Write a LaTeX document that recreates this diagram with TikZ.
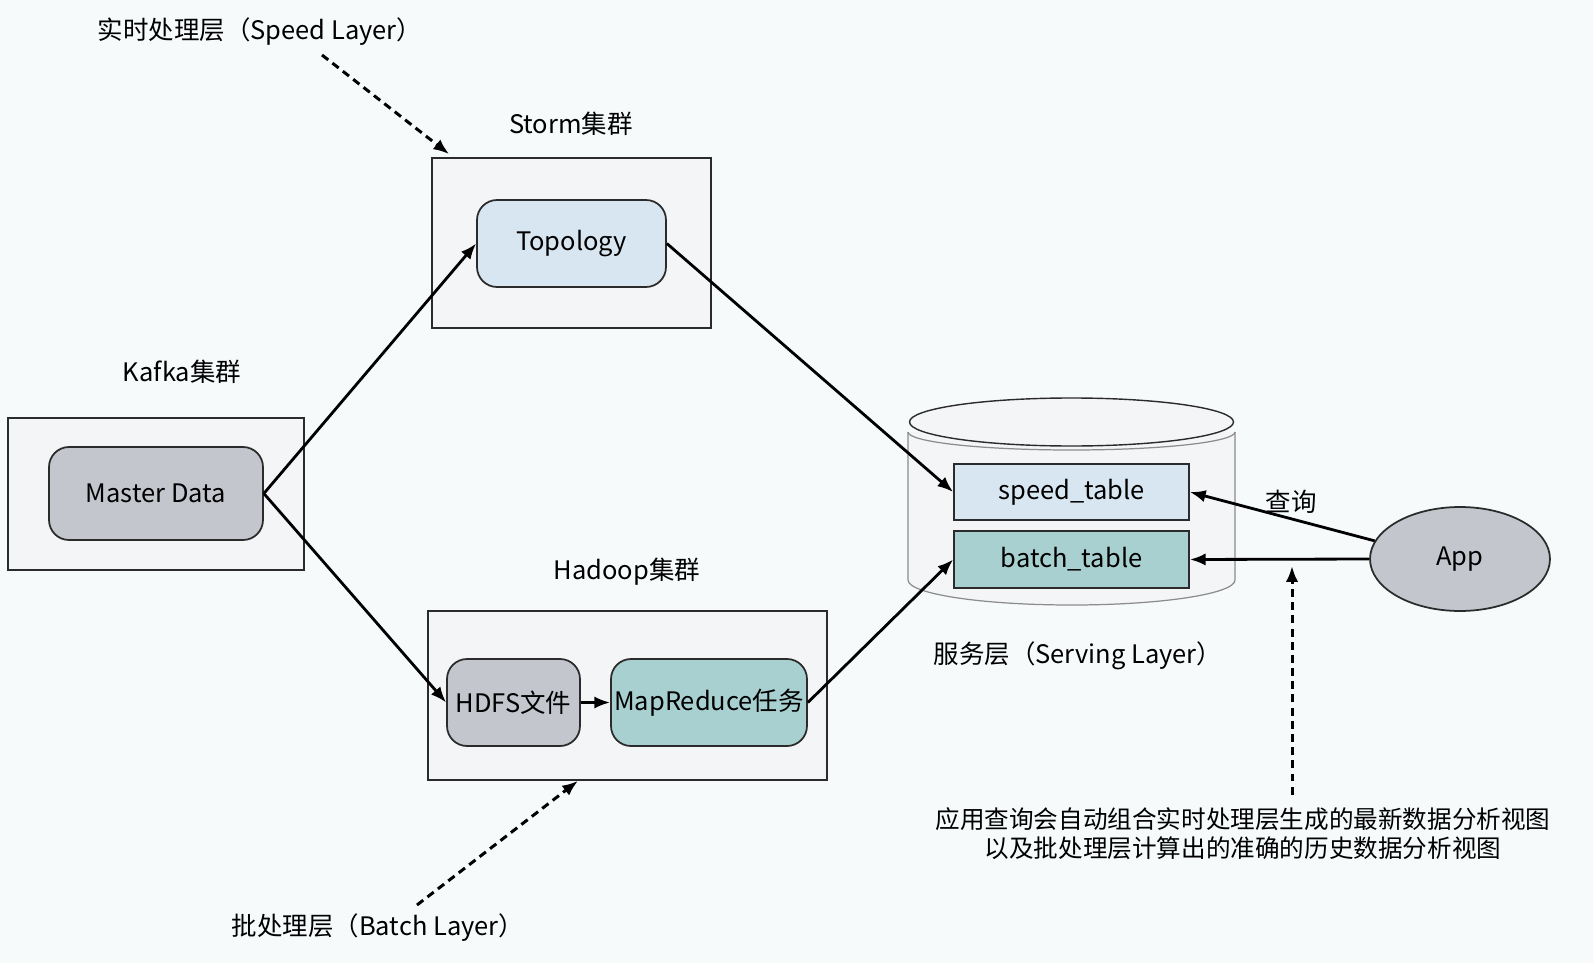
\documentclass[tikz,border=0pt]{standalone}
\usepackage{fontspec}
\setmainfont{Noto Sans CJK SC}
\usetikzlibrary{arrows.meta,shapes.geometric}
\definecolor{bgcol}{HTML}{F6FAFB}
\definecolor{clusterfill}{HTML}{F4F5F7}
\definecolor{graynode}{HTML}{C3C6CD}
\definecolor{bluenode}{HTML}{D8E6F1}
\definecolor{tealnode}{HTML}{A8D0D0}
\definecolor{edge}{HTML}{2B2B2B}
\begin{document}
\begin{tikzpicture}[x=0.02cm,y=-0.02cm,font=\fontsize{14.5}{18}\selectfont,
		cluster/.style={rectangle,draw=edge,fill=clusterfill,line width=1pt,inner sep=0pt},
		task/.style={rectangle,rounded corners=0.4cm,draw=edge,line width=1pt,inner sep=0pt,minimum height=1.74cm},
		table/.style={rectangle,draw=edge,line width=1pt,inner sep=0pt,minimum width=4.7cm},
		flow/.style={-{Latex[length=9pt,width=7pt]},line width=1.6pt,draw=black},
		layer/.style={-{Latex[length=9pt,width=7pt]},line width=1.7pt,dash pattern=on 4.5pt off 3pt,draw=black}]
		\fill[bgcol] (0,0) rectangle (1593,963);
		\useasboundingbox (0,0) rectangle (1593,963);
		% clusters
		\node[cluster,minimum width=5.92cm,minimum height=3.04cm] (kafka) at (156,494) {};
		\node (kafkalbl) at (182,372) {Kafka集群};
		\node[task,fill=graynode,minimum width=4.28cm,minimum height=1.86cm] (master) at (156,493.5) {Master Data};
		\node[cluster,minimum width=5.58cm,minimum height=3.4cm] (storm) at (571.5,243) {};
		\node (stormlbl) at (571,124) {Storm集群};
		\node[task,fill=bluenode,minimum width=3.78cm] (topo) at (571.5,243.5) {Topology};
		\node[cluster,minimum width=7.98cm,minimum height=3.38cm] (hadoop) at (627.5,695.5) {};
		\node (hadooplbl) at (627,572) {Hadoop集群};
		\node[task,fill=graynode,minimum width=2.66cm] (hdfs) at (513.5,702.5) {HDFS文件};
		\node[task,fill=tealnode,minimum width=3.92cm] (mapred) at (709,702.5) {MapReduce任务};
		% serving layer
		\filldraw[fill=clusterfill,draw=black!45,line width=0.7pt] (908,432) -- (908,580) arc[start angle=180,end angle=0,x radius=163.5,y radius=25] -- (1235,432);
		\draw[black!45,line width=0.7pt] (908,432) arc[start angle=180,end angle=0,x radius=163.5,y radius=18];
		\filldraw[fill=clusterfill,draw=edge,line width=0.8pt] (1071.5,422) ellipse[x radius=162,y radius=24];
		\node[table,fill=bluenode,minimum height=1.12cm] (speed) at (1071.5,492) {speed\_table};
		\node[table,fill=tealnode,minimum height=1.14cm] (batch) at (1071.5,559.5) {batch\_table};
		\node (servinglbl) at (1078,656) {服务层（Serving Layer）};
		\node[ellipse,draw=edge,fill=graynode,line width=1pt,minimum width=3.6cm,minimum height=2.08cm,inner sep=0pt] (app) at (1460,559) {App};
		% connectors
		\draw[flow] (master.east) -- (topo.west);
		\draw[flow] (master.east) -- (hdfs.west);
		\draw[flow] (hdfs.east) -- (mapred.west);
		\draw[flow] (topo.east) -- (speed.west);
		\draw[flow] (mapred.east) -- (batch.west);
		\draw[flow] (app.168) -- (speed.east);
		\draw[flow] (app.west) -- (batch.east);
		\node (query) at (1291,502) {查询};
		% layer notes
		\node (speedlbl) at (260,32) {实时处理层（Speed Layer）};
		\coordinate (speed0) at (322,55);
		\draw[layer] (speed0) -- ([xshift=0.36cm,yshift=0.06cm]storm.north west);
		\node (batchlbl) at (378,928) {批处理层（Batch Layer）};
		\coordinate (batch0) at (417,905);
		\draw[layer] (batch0) -- ([xshift=-0.99cm]hadoop.south);
		\node[align=center,inner sep=0pt,font=\fontsize{14}{16.5}\selectfont] (note) at (1243,834) {应用查询会自动组合实时处理层生成的最新数据分析视图\\以及批处理层计算出的准确的历史数据分析视图};
		\coordinate (notetip) at (1292,566);
		\draw[layer] ([yshift=0.26cm]note.north -| notetip) -- (notetip);
	\end{tikzpicture}
\end{document}
